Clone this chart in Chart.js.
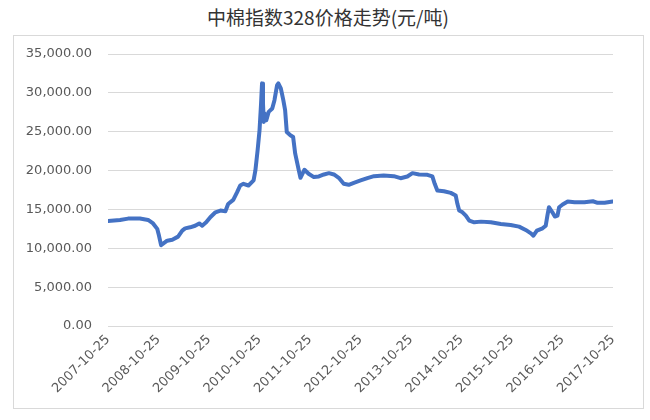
<!DOCTYPE html>
<html>
<head>
<meta charset="utf-8">
<script src="https://cdn.jsdelivr.net/npm/chart.js@4.4.1/dist/chart.umd.min.js"></script>
<style>
  html, body { margin: 0; padding: 0; background: #fff; }
  body { width: 650px; height: 420px; position: relative; overflow: hidden; }
  #title {
    position: absolute; left: 0; top: 3px; width: 656px; text-align: center;
    font-family: "Noto Sans CJK SC", sans-serif; font-size: 19px; color: #333;
  }
  #box {
    position: absolute; left: 13px; top: 35px; width: 629px; height: 372px;
    border: 1px solid #d9d9d9;
  }
  canvas { display: block; }
</style>
</head>
<body>
<div id="title">中棉指数328价格走势(元/吨)</div>
<div id="box"><canvas id="c" width="629" height="372"></canvas></div>
<script>
// 中棉指数328 (元/吨)
const dates = [
  '2007-10-25', '2008-01-20', '2008-03-18', '2008-06-12', '2008-08-10', '2008-09-15',
  '2008-10-15', '2008-10-28', '2008-11-12', '2008-12-26', '2009-02-01', '2009-03-15',
  '2009-04-14', '2009-05-05', '2009-06-10', '2009-07-16', '2009-08-15', '2009-09-05',
  '2009-10-04', '2009-11-03', '2009-12-10', '2010-01-15', '2010-02-20', '2010-03-12',
  '2010-04-18', '2010-05-16', '2010-06-07', '2010-07-01', '2010-08-06', '2010-09-12',
  '2010-09-25', '2010-10-11', '2010-10-25', '2010-11-05', '2010-11-12', '2010-11-19',
  '2010-11-25', '2010-12-01', '2010-12-13', '2010-12-30', '2011-01-25', '2011-02-10',
  '2011-03-01', '2011-03-10', '2011-03-28', '2011-04-15', '2011-04-28', '2011-05-10',
  '2011-06-05', '2011-06-25', '2011-07-10', '2011-08-05', '2011-08-17', '2011-09-15',
  '2011-10-15', '2011-11-22', '2011-12-28', '2012-02-03', '2012-03-10', '2012-04-15',
  '2012-05-20', '2012-06-25', '2012-07-31', '2012-09-06', '2012-10-25', '2012-12-13',
  '2013-01-30', '2013-04-10', '2013-06-22', '2013-08-10', '2013-09-28', '2013-11-04',
  '2013-12-22', '2014-02-20', '2014-03-28', '2014-04-14', '2014-05-03', '2014-06-20',
  '2014-08-08', '2014-09-13', '2014-09-25', '2014-10-08', '2014-11-01', '2014-11-25',
  '2014-12-20', '2015-01-25', '2015-03-15', '2015-05-25', '2015-08-05', '2015-10-15',
  '2015-12-15', '2016-02-01', '2016-03-10', '2016-03-28', '2016-04-22', '2016-06-02',
  '2016-06-25', '2016-07-07', '2016-07-18', '2016-08-12', '2016-08-30', '2016-09-18',
  '2016-09-30', '2016-10-25', '2016-12-01', '2017-01-20', '2017-04-01', '2017-06-01',
  '2017-07-05', '2017-08-25', '2017-10-22'
];
const prices = [
  13500, 13650, 13820, 13820, 13650, 13200,
  12500, 11600, 10400, 10980, 11100, 11500,
  12270, 12560, 12700, 12900, 13200, 12900,
  13340, 14000, 14630, 14850, 14760, 15700,
  16230, 17220, 18080, 18300, 18080, 18730,
  20020, 22600, 25180, 28630, 31220, 28630,
  26260, 27340, 26480, 27550, 27990, 29060,
  31000, 31220, 30570, 29060, 27770, 24960,
  24540, 24320, 22180, 20020, 19070, 20110,
  19590, 19160, 19240, 19500, 19670, 19500,
  19070, 18300, 18170, 18430, 18730, 19020,
  19280, 19370, 19280, 19020, 19240, 19670,
  19500, 19460, 19240, 18300, 17430, 17340,
  17130, 16790, 15720, 14850, 14630, 14210,
  13560, 13340, 13430, 13340, 13130, 13000,
  12790, 12360, 11920, 11620, 12270, 12570,
  12910, 14210, 15280, 14630, 14080, 14210,
  15280, 15630, 16010, 15920, 15920, 16050,
  15850, 15850, 16010
];
const startDate = '2007-10-25';
const tickYears = [2007, 2008, 2009, 2010, 2011, 2012, 2013, 2014, 2015, 2016, 2017];

const t0 = Date.parse(startDate);
const yearMs = 365.25 * 86400000;
const points = dates.map((d, i) => ({ x: (Date.parse(d) - t0) / yearMs, y: prices[i] }));

const tickFont = { family: 'DejaVu Sans', size: 13 };

new Chart(document.getElementById('c'), {
  type: 'line',
  data: {
    datasets: [{
      data: points,
      borderColor: '#4472C4',
      borderWidth: 4,
      pointRadius: 0,
      tension: 0,
      borderJoinStyle: 'round',
      borderCapStyle: 'round'
    }]
  },
  options: {
    responsive: false,
    animation: false,
    layout: { padding: { top: 18, right: 30, left: 0, bottom: 0 } },
    plugins: { legend: { display: false }, tooltip: { enabled: false } },
    scales: {
      x: {
        type: 'linear',
        min: 0,
        max: tickYears.length - 1,
        afterFit: (scale) => {
          scale.height = 82;
          scale.paddingTop = 0;
          scale.paddingBottom = 0;
        },
        afterBuildTicks: (scale) => {
          scale.ticks = tickYears.map((y, i) => ({ value: i }));
        },
        ticks: {
          autoSkip: false,
          minRotation: 45,
          maxRotation: 45,
          padding: 6,
          color: '#595959',
          font: tickFont,
          callback: (v) => tickYears[Math.round(v)] + '-10-25'
        },
        grid: { display: false, drawTicks: false },
        border: { display: false }
      },
      y: {
        min: 0,
        max: 35000,
        afterFit: (scale) => {
          scale.width = 94;
          scale.paddingTop = 0;
          scale.paddingBottom = 0;
        },
        ticks: {
          stepSize: 5000,
          padding: 16,
          color: '#595959',
          font: tickFont,
          callback: (v) => v.toLocaleString('en-US', { minimumFractionDigits: 2, maximumFractionDigits: 2 })
        },
        grid: { color: '#d9d9d9', lineWidth: 1, drawTicks: false },
        border: { display: false }
      }
    }
  }
});
</script>
</body>
</html>
